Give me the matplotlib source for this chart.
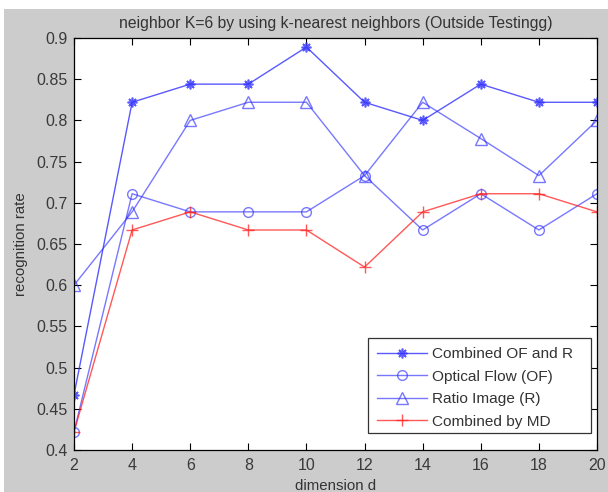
import matplotlib
matplotlib.use("Agg")
import matplotlib.pyplot as plt
from matplotlib.patches import Rectangle

plt.rcParams['font.family'] = ['Liberation Sans', 'DejaVu Sans']

dims = [2, 4, 6, 8, 10, 12, 14, 16, 18, 20]
combined_of_r = [0.467, 0.822, 0.844, 0.844, 0.889, 0.822, 0.800, 0.844, 0.822, 0.822]
optical_flow = [0.422, 0.711, 0.689, 0.689, 0.689, 0.733, 0.667, 0.711, 0.667, 0.711]
ratio_image = [0.600, 0.689, 0.800, 0.822, 0.822, 0.733, 0.822, 0.778, 0.733, 0.800]
combined_md = [0.422, 0.667, 0.689, 0.667, 0.667, 0.622, 0.689, 0.711, 0.711, 0.689]
labels = ['Combined OF and R', 'Optical Flow (OF)', 'Ratio Image (R)', 'Combined by MD']
xticks = [2, 4, 6, 8, 10, 12, 14, 16, 18, 20]
yticks = [0.4, 0.45, 0.5, 0.55, 0.6, 0.65, 0.7, 0.75, 0.8, 0.85, 0.9]
yticklabels = ['0.4', '0.45', '0.5', '0.55', '0.6', '0.65', '0.7', '0.75', '0.8', '0.85', '0.9']

W, H = 608, 492
fig = plt.figure(figsize=(W / 100, H / 100), dpi=100, facecolor='white')
fig.patches.append(Rectangle((4 / W, 0), 1 - 4 / W, 1 - 9 / H, transform=fig.transFigure,
                             facecolor='#cccccc', edgecolor='none', zorder=-10))

ax = fig.add_axes([74 / W, 1 - 450 / H, (597 - 74) / W, (450 - 38) / H])
ax.set_zorder(1)
ax.set_facecolor('white')

blue = '#3030ff'
ax.plot(dims, combined_of_r, color=blue, marker=(8, 2, 0), markersize=7, mew=1.2, lw=1, alpha=0.8, label=labels[0])
ax.plot(dims, optical_flow, color=blue, marker='o', markersize=7, mfc='none', lw=1, alpha=0.65, label=labels[1])
ax.plot(dims, ratio_image, color=blue, marker='^', markersize=8, mfc='none', lw=1, alpha=0.65, label=labels[2])
ax.plot(dims, combined_md, color='#ff2020', marker='+', markersize=9, lw=1, alpha=0.75, label=labels[3])

ax.set_xlim(2, 20)
ax.set_ylim(0.4, 0.9)
ax.set_xticks(xticks)
ax.set_yticks(yticks)
ax.set_yticklabels(yticklabels)
ax.tick_params(direction='in', top=True, right=True, length=5, labelsize=11.5, labelcolor='#3a3a3a')
ax.tick_params(axis='x', pad=6)
ax.tick_params(axis='y', pad=4.5)
for s in ax.spines.values():
    s.set_linewidth(0.9)

ax.set_title('neighbor K=6 by using k-nearest neighbors (Outside Testingg)', fontsize=11.3, color='#333333', pad=7)
ax.set_xlabel('dimension d', fontsize=10.8, color='#333333', labelpad=4)
ax.set_ylabel('recognition rate', fontsize=10.8, color='#333333', labelpad=6)

# legend frame (MATLAB-style box with extra room on the right)
lx0, ly0, lx1, ly1 = 368, 338, 591, 433
frame = Rectangle((lx0 / W, 1 - ly1 / H), (lx1 - lx0) / W, (ly1 - ly0) / H, transform=fig.transFigure,
                  facecolor='white', edgecolor='#333333', linewidth=0.9, zorder=5)
ax.add_artist(frame)
frame.set_clip_on(False)

leg = ax.legend(loc='upper left', bbox_to_anchor=(lx0 / W, 1 - ly0 / H), bbox_transform=fig.transFigure,
                fontsize=11.1, frameon=False,
                handlelength=3.2, handletextpad=0.35, labelspacing=0.55, borderpad=0.6, borderaxespad=0)
leg.set_zorder(6)
for t in leg.get_texts():
    t.set_color('#333333')

fig.savefig('out.png', dpi=100, facecolor='white')
